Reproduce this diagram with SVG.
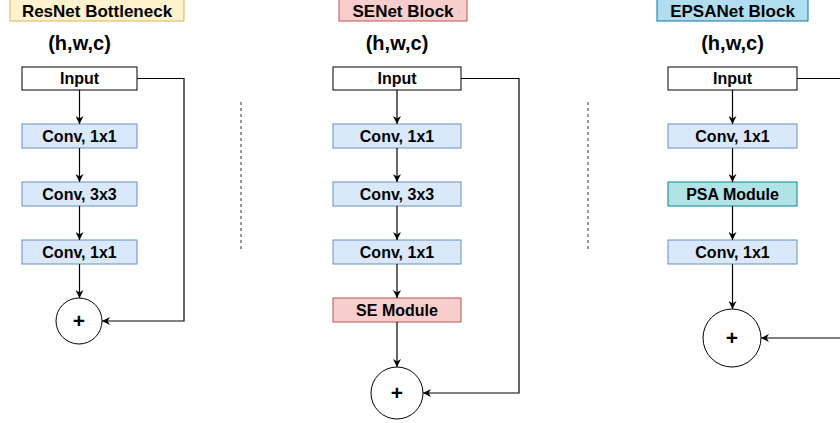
<svg xmlns="http://www.w3.org/2000/svg" width="840" height="423" viewBox="0 0 840 423">
<style>
text{font-family:"Liberation Sans",Arial,sans-serif;font-weight:bold;fill:#000;text-anchor:middle}
.t{font-size:17px}
.s{font-size:20px}
.b{font-size:16px}
.p{font-size:21px}
.in{fill:#fff;stroke:#000;stroke-width:1}
.cv{fill:#dae8fc;stroke:#6c8ebf;stroke-width:1}
.se{fill:#f8cecc;stroke:#b85450;stroke-width:1}
.psa{fill:#b0e3e6;stroke:#0e8088;stroke-width:1}
.add{fill:#fff;stroke:#000;stroke-width:1}
.e{fill:none;stroke:#000;stroke-width:1.2;marker-end:url(#ah)}
.sep{fill:none;stroke:#333;stroke-width:1;stroke-dasharray:3,3}
</style>
<defs>
<marker id="ah" viewBox="0 0 10 10" markerWidth="8" markerHeight="8" markerUnits="userSpaceOnUse" refX="10" refY="5" orient="auto">
<path d="M0,0 L10,5 L0,10 L3,5 z" fill="#000"/>
</marker>
</defs>
<rect width="840" height="423" fill="#fff"/>

<g id="title-resnet"><rect x="10" y="-4" width="174" height="25" fill="#fff2cc" stroke="#d6b656"/><text class="t" x="97" y="16.5">ResNet Bottleneck</text></g>
<g id="title-senet"><rect x="339" y="-4" width="128" height="25" fill="#f8cecc" stroke="#b85450"/><text class="t" x="403" y="16.5">SENet Block</text></g>
<g id="title-epsanet"><rect x="657" y="-4" width="151" height="25" fill="#b1ddf0" stroke="#10739e"/><text class="t" x="732.5" y="16.5">EPSANet Block</text></g>

<g id="shape-resnet"><text class="s" x="79.5" y="50">(h,w,c)</text></g>
<g id="shape-senet"><text class="s" x="397" y="50">(h,w,c)</text></g>
<g id="shape-epsanet"><text class="s" x="732.5" y="50">(h,w,c)</text></g>

<g id="r-input"><rect class="in" x="22" y="67" width="115" height="23"/><text class="b" x="79.5" y="84">Input</text></g>
<g id="r-conv1"><rect class="cv" x="22" y="124" width="115" height="24"/><text class="b" x="79.5" y="141.5">Conv, 1x1</text></g>
<g id="r-conv2"><rect class="cv" x="22" y="182" width="115" height="24"/><text class="b" x="79.5" y="199.5">Conv, 3x3</text></g>
<g id="r-conv3"><rect class="cv" x="22" y="240" width="115" height="24"/><text class="b" x="79.5" y="257.5">Conv, 1x1</text></g>
<g id="r-add"><circle class="add" cx="79" cy="321" r="23"/><text class="p" x="79" y="328">+</text></g>

<g id="s-input"><rect class="in" x="333" y="67" width="128" height="23"/><text class="b" x="397" y="84">Input</text></g>
<g id="s-conv1"><rect class="cv" x="333" y="124" width="128" height="24"/><text class="b" x="397" y="141.5">Conv, 1x1</text></g>
<g id="s-conv2"><rect class="cv" x="333" y="182" width="128" height="24"/><text class="b" x="397" y="199.5">Conv, 3x3</text></g>
<g id="s-conv3"><rect class="cv" x="333" y="240" width="128" height="24"/><text class="b" x="397" y="257.5">Conv, 1x1</text></g>
<g id="s-se"><rect class="se" x="333" y="298" width="128" height="24"/><text class="b" x="397" y="315.5">SE Module</text></g>
<g id="s-add"><circle class="add" cx="397" cy="393" r="26"/><text class="p" x="397" y="400">+</text></g>

<g id="e-input"><rect class="in" x="668" y="67" width="129" height="23"/><text class="b" x="732.5" y="84">Input</text></g>
<g id="e-conv1"><rect class="cv" x="668" y="124" width="129" height="24"/><text class="b" x="732.5" y="141.5">Conv, 1x1</text></g>
<g id="e-psa"><rect class="psa" x="668" y="182" width="129" height="24"/><text class="b" x="732.5" y="199.5">PSA Module</text></g>
<g id="e-conv2"><rect class="cv" x="668" y="240" width="129" height="24"/><text class="b" x="732.5" y="257.5">Conv, 1x1</text></g>
<g id="e-add"><circle class="add" cx="732" cy="338" r="29"/><text class="p" x="732" y="345">+</text></g>

<g id="separators">
<line class="sep" x1="241" y1="102" x2="241" y2="252"/>
<line class="sep" x1="588" y1="102" x2="588" y2="252"/>
</g>

<g id="connectors">
<path class="e" d="M79.5,90 V124"/>
<path class="e" d="M79.5,148 V182"/>
<path class="e" d="M79.5,206 V240"/>
<path class="e" d="M79.5,264 V298"/>
<path class="e" d="M137,78.5 H184 V321 H102"/>

<path class="e" d="M397,90 V124"/>
<path class="e" d="M397,148 V182"/>
<path class="e" d="M397,206 V240"/>
<path class="e" d="M397,264 V298"/>
<path class="e" d="M397,322 V367"/>
<path class="e" d="M461,78.5 H519 V393 H423"/>

<path class="e" d="M732.5,90 V124"/>
<path class="e" d="M732.5,148 V182"/>
<path class="e" d="M732.5,206 V240"/>
<path class="e" d="M732.5,264 V309"/>
<path class="e" d="M797,78.5 H850 V338 H761"/>
</g>
</svg>
